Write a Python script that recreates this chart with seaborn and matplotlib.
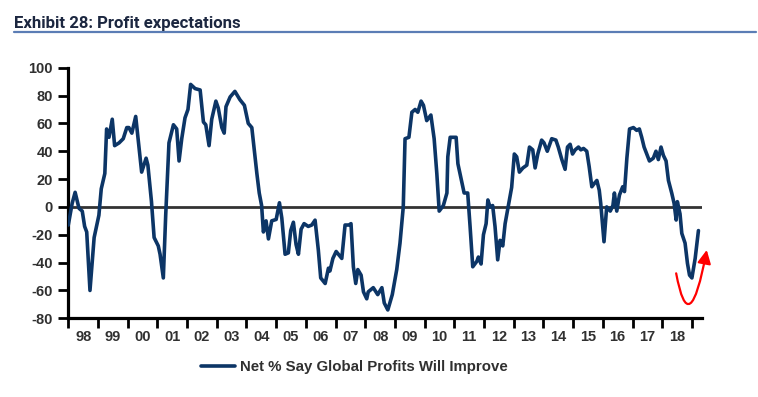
import matplotlib
matplotlib.use('Agg')
import matplotlib.pyplot as plt
import seaborn as sns
import pandas as pd
from matplotlib.patches import FancyArrowPatch
from matplotlib.path import Path
from matplotlib.lines import Line2D

# ---- data (decimal year, net % saying global profits will improve) ----
years = [1998.00, 1998.13, 1998.23, 1998.36, 1998.47, 1998.55, 1998.62, 1998.73, 1998.87,
         1999.03, 1999.11, 1999.23, 1999.29, 1999.37, 1999.48, 1999.56, 1999.71, 1999.85, 1999.97,
         2000.04, 2000.14, 2000.27, 2000.35, 2000.39, 2000.47, 2000.62, 2000.68, 2000.80, 2000.89,
         2001.03, 2001.09, 2001.20, 2001.28, 2001.39, 2001.54, 2001.65, 2001.73, 2001.82, 2001.93,
         2002.03, 2002.12, 2002.27, 2002.44, 2002.55, 2002.63, 2002.74, 2002.83, 2002.97,
         2003.05, 2003.17, 2003.25, 2003.31, 2003.45, 2003.61, 2003.78, 2003.93,
         2004.06, 2004.18, 2004.35, 2004.43, 2004.51, 2004.57, 2004.66, 2004.74, 2004.85,
         2005.00, 2005.11, 2005.19, 2005.30, 2005.41, 2005.49, 2005.58, 2005.67, 2005.75, 2005.84, 2005.94,
         2006.08, 2006.20, 2006.31, 2006.42, 2006.50, 2006.65, 2006.76, 2006.81, 2006.91,
         2007.02, 2007.21, 2007.32, 2007.45, 2007.52, 2007.60, 2007.68, 2007.75, 2007.86, 2007.94,
         2008.05, 2008.10, 2008.27, 2008.42, 2008.56, 2008.64, 2008.76, 2008.91,
         2009.06, 2009.17, 2009.28, 2009.34, 2009.47, 2009.57, 2009.68, 2009.77, 2009.88, 2009.96,
         2010.07, 2010.21, 2010.32, 2010.41, 2010.49, 2010.63, 2010.75, 2010.78, 2010.86,
         2011.06, 2011.12, 2011.25, 2011.33, 2011.45, 2011.53, 2011.62, 2011.76, 2011.81, 2011.90, 2011.98,
         2012.07, 2012.13, 2012.20, 2012.29, 2012.37, 2012.46, 2012.54, 2012.63, 2012.71, 2012.82, 2012.93,
         2013.02, 2013.10, 2013.19, 2013.31, 2013.44, 2013.53, 2013.64, 2013.72, 2013.81, 2013.94,
         2014.02, 2014.13, 2014.28, 2014.42, 2014.50, 2014.62, 2014.73, 2014.81, 2014.90, 2014.98,
         2015.07, 2015.18, 2015.26, 2015.35, 2015.46, 2015.54, 2015.63, 2015.72, 2015.80, 2015.88, 2015.93,
         2016.04, 2016.13, 2016.25, 2016.34, 2016.39, 2016.47, 2016.56, 2016.67, 2016.73, 2016.81, 2016.90,
         2017.03, 2017.14, 2017.23, 2017.31, 2017.39, 2017.48, 2017.57, 2017.70, 2017.79, 2017.87, 2017.96,
         2018.04, 2018.13, 2018.21, 2018.32, 2018.40, 2018.47, 2018.51, 2018.60, 2018.66, 2018.77,
         2018.85, 2018.92, 2019.00, 2019.11, 2019.22]
values = [-13, 2.6, 10.5, -1, -3, -14, -18, -60, -22,
          -6, 13, 24, 56, 50, 63, 44, 46, 49, 57,
          57, 53, 65, 49, 41, 25, 35, 30, 4, -22,
          -28, -34, -51, -6, 46, 59, 56, 33, 49, 64,
          70, 88, 85, 84, 61, 59, 44, 63, 76,
          71, 57, 53, 72, 79, 83, 77, 73,
          60, 57, 24, 10, 1, -18, -10, -23, -10,
          -9, 3, -8, -34, -33, -17, -11, -27, -34, -16, -12,
          -14, -13, -9.5, -31, -51, -55, -44, -46, -37,
          -32, -37, -13, -13, -12, -43, -55, -45, -49, -61,
          -66, -61, -58, -63, -58, -69, -74, -63,
          -45, -26, 0, 49, 50, 68, 70, 68, 76, 73,
          62, 66, 49, 24, -3, 1, 10, 36, 50,
          50, 31, 18, 10, 10, -14, -43, -39, -36, -41, -20,
          -12, 5, 0, 1, -14, -38, -24, -28, -12, 1, 14,
          38, 36, 25, 28, 30, 43, 41, 28, 38, 48,
          46, 40, 49, 48, 43, 34, 27, 43, 45, 38,
          41, 43, 41, 42, 40, 29, 14.5, 17, 19, 12, 2.5,
          -25, 0, -3, 1, 10, -3, 8.5, 14.5, 11, 35, 56,
          57, 55, 56, 50, 43, 38, 33, 35, 40, 34, 43,
          37, 33, 19, 10, 2.6, -9.4, 3.8, -5, -19, -26,
          -40.5, -49, -51, -37, -17]
series_name = 'Net % Say Global Profits Will Improve'
year_ticks = list(range(1998, 2020))
year_labels = ['98', '99', '00', '01', '02', '03', '04', '05', '06', '07', '08',
               '09', '10', '11', '12', '13', '14', '15', '16', '17', '18']
y_ticks = [-80, -60, -40, -20, 0, 20, 40, 60, 80, 100]
# annotation arrow (start, bend control, tip) in data units
arrow_pts = [(2018.47, -47.7), (2018.91, -98.5), (2019.50, -30.9)]

NAVY = '#0c3566'
TXT = '#303030'

sns.set_theme(style='white')
plt.rcParams['font.family'] = ['Liberation Sans', 'DejaVu Sans']
plt.rcParams['axes.unicode_minus'] = False

W, H = 758, 397
fig = plt.figure(figsize=(W / 100, H / 100), dpi=100)
ax = fig.add_axes([68.3 / W, 78.7 / H, (701.7 - 68.3) / W, (318.3 - 67.7) / H])

df = pd.DataFrame({'year': years, 'value': values})
ax.axhline(0, color='#333333', lw=2.0, zorder=1)
sns.lineplot(data=df, x='year', y='value', ax=ax, color=NAVY, lw=2.6,
             legend=False, zorder=3, estimator=None, sort=False)
line = ax.get_lines()[-1]

ax.set_xlim(1998.0, 2019.33)
ax.set_ylim(-80, 100)
ax.set_xlabel('')
ax.set_ylabel('')

for s in ['top', 'right']:
    ax.spines[s].set_visible(False)
for s in ['left', 'bottom']:
    ax.spines[s].set_color('black')
    ax.spines[s].set_linewidth(2.3)

ax.set_yticks(y_ticks)
ax.set_yticklabels([str(v) for v in y_ticks])
ax.tick_params(axis='y', which='major', direction='out', length=7, width=2,
               color='black', pad=4, labelsize=10.5, labelcolor=TXT, left=True)
for lab in ax.get_yticklabels():
    lab.set_fontweight('bold')

ax.set_xticks(year_ticks)
ax.set_xticklabels([''] * len(year_ticks))
ax.set_xticks([y + 0.5 for y in year_ticks[:-1]], minor=True)
ax.set_xticklabels(year_labels, minor=True)
ax.tick_params(axis='x', which='major', direction='out', length=7, width=2,
               color='black', bottom=True)
ax.tick_params(axis='x', which='minor', length=0, pad=8.5, labelsize=10.5,
               labelcolor=TXT, bottom=True)
for lab in ax.get_xticklabels(minor=True):
    lab.set_fontweight('bold')
ax.grid(False)

# red annotation arrow
path = Path(arrow_pts, [Path.MOVETO, Path.CURVE3, Path.CURVE3])
arr = FancyArrowPatch(path=path, arrowstyle='-|>,head_length=1.0,head_width=0.5',
                      mutation_scale=8, color='red', lw=1.6,
                      transform=ax.transData, clip_on=False, zorder=5)
ax.add_patch(arr)

# title & rule
fig.text(14 / W, 1 - 28.3 / H, 'Exhibit 28: Profit expectations', fontsize=12.1,
         fontweight='bold', color='#1c2740', va='baseline', ha='left',
         family=['Roboto', 'Liberation Sans', 'DejaVu Sans'])
fig.add_artist(Line2D([14 / W, 756 / W], [1 - 31.7 / H] * 2, color='#5b7db5', lw=1.6))

# legend
leg = fig.legend([line], [series_name], loc='center left',
                 bbox_to_anchor=(201 / W, 1 - 367.3 / H), frameon=False,
                 borderpad=0, borderaxespad=0, handlelength=2.25, handletextpad=0.35,
                 prop={'weight': 'bold', 'size': 10.8})
for t in leg.get_texts():
    t.set_color(TXT)

fig.savefig('out.png', dpi=100)
